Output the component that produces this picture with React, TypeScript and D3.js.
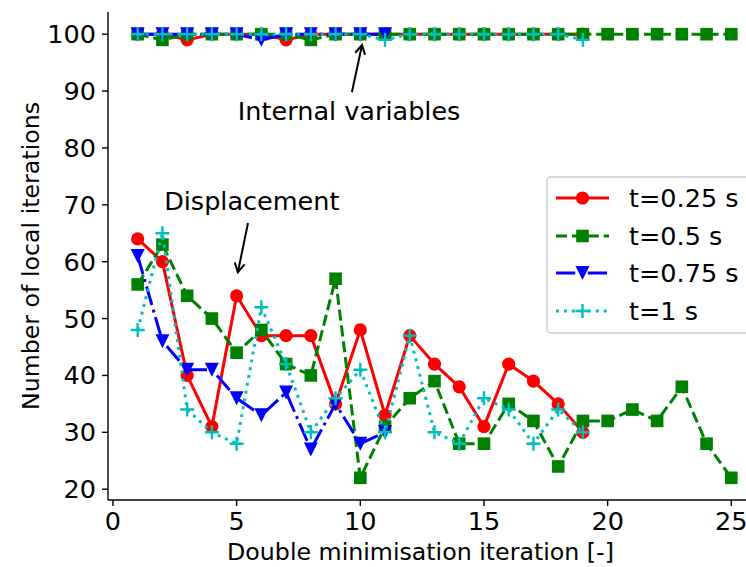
import React from "react";
import * as d3 from "d3";

const W = 746;
const H = 567;

const seriesNames = ["t=0.25 s", "t=0.5 s", "t=0.75 s", "t=1 s"];
const seriesColors = ["#ff0000", "#008000", "#0000ff", "#00bfbf"];
const seriesMarkers = ["circle", "square", "triangle", "plus"];
const seriesDash = ["", "11.1,4.8", "19.2,4.8,3,4.8", "3,4.95"];

// Internal variables (local iterations ~100), x = 1..n
const redInternal = [100, 100, 99, 100, 100, 100, 99, 100, 100, 100, 100, 100, 100, 100, 100, 100, 100, 100, 100];
const greenInternal = [100, 99, 100, 100, 100, 100, 100, 99, 100, 100, 100, 100, 100, 100, 100, 100, 100, 100, 100, 100, 100, 100, 100, 100, 100];
const blueInternal = [100, 100, 100, 100, 100, 99, 100, 100, 100, 100, 100];
const cyanInternal = [100, 100, 100, 100, 100, 100, 100, 100, 100, 100, 99, 100, 100, 100, 100, 100, 100, 100, 99];

// Displacement, x = 1..n
const redDisp = [64, 60, 40, 31, 54, 47, 47, 47, 35, 48, 33, 47, 42, 38, 31, 42, 39, 35, 30];
const greenDisp = [56, 63, 54, 50, 44, 48, 42, 40, 57, 22, 31, 36, 39, 28, 28, 35, 32, 24, 32, 32, 34, 32, 38, 28, 22];
const blueDisp = [61, 46, 41, 41, 36, 33, 37, 27, 35, 28, 30];
const cyanDisp = [48, 65, 34, 30, 28, 52, 42, 30, 36, 41, 30, 47, 30, 28, 36, 34, 28, 34, 30];

const internalData = [redInternal, greenInternal, blueInternal, cyanInternal];
const dispData = [redDisp, greenDisp, blueDisp, cyanDisp];

const xTicks = [0, 5, 10, 15, 20, 25];
const yTicks = [20, 30, 40, 50, 60, 70, 80, 90, 100];

const xLabel = "Double minimisation iteration [-]";
const yLabel = "Number of local iterations";

const annotations = [
  { text: "Internal variables", tx: 5.05, ty: 84.9, ax: 9.66, ay: 89.8, hx: 10.07, hy: 98.1 },
  { text: "Displacement", tx: 2.07, ty: 69.05, ax: 5.46, ay: 66.8, hx: 5.05, hy: 58.15 },
];

const FONT = "DejaVu Sans, sans-serif";
const FS = 25.5;
const FS_LABEL = 23.7;

function Marker({ type, x, y, color }: { type: string; x: number; y: number; color: string }) {
  if (type === "circle") return <circle cx={x} cy={y} r={6.6} fill={color} />;
  if (type === "square") return <rect x={x - 6.3} y={y - 6.3} width={12.6} height={12.6} fill={color} />;
  if (type === "triangle")
    return <path d={`M${x},${y + 7} L${x - 7},${y - 7} L${x + 7},${y - 7} Z`} fill={color} />;
  return (
    <path
      d={`M${x - 7},${y} L${x + 7},${y} M${x},${y - 7} L${x},${y + 7}`}
      stroke={color}
      strokeWidth={2.4}
      fill="none"
    />
  );
}

export default function App() {
  const left = 108;
  const right = 761;
  const top = 12;
  const bottom = 500;
  const x = d3.scaleLinear().domain([-0.2, 26.2]).range([left, right]);
  const y = d3.scaleLinear().domain([18.1, 103.9]).range([bottom, top]);
  const line = d3
    .line<number>()
    .x((_, i) => x(i + 1))
    .y((d) => y(d));

  const legendX = 547;
  const legendY = 177;
  const rowY = [198, 236, 273, 311];

  return (
    <svg
      width={W}
      height={H}
      style={{ position: "fixed", left: 0, top: 0, background: "#fff" }}
      fontFamily={FONT}
    >
      <defs>
        <clipPath id="plotclip">
          <rect x={left} y={top} width={right - left} height={bottom - top} />
        </clipPath>
        <marker id="arrowhead" viewBox="-10 -10 20 20" markerWidth={20} markerHeight={20} refX={0} refY={0} orient="auto" markerUnits="userSpaceOnUse">
          <path d="M-9,-5 L0,0 L-9,5" fill="none" stroke="#000" strokeWidth={2} />
        </marker>
      </defs>

      <g clipPath="url(#plotclip)">
        {seriesNames.map((_, si) => (
          <g key={si}>
            {[dispData[si], internalData[si]].map((arr, gi) => (
              <g key={gi}>
                <path
                  d={line(arr) || ""}
                  fill="none"
                  stroke={seriesColors[si]}
                  strokeWidth={3}
                  strokeDasharray={seriesDash[si]}
                  strokeLinejoin="round"
                />
                {arr.map((v, i) => (
                  <Marker key={i} type={seriesMarkers[si]} x={x(i + 1)} y={y(v)} color={seriesColors[si]} />
                ))}
              </g>
            ))}
          </g>
        ))}
      </g>

      {/* axes */}
      <line x1={left} x2={left} y1={top} y2={bottom} stroke="#000" strokeWidth={1.4} />
      <line x1={left} x2={right} y1={bottom} y2={bottom} stroke="#000" strokeWidth={1.4} />
      {xTicks.map((t) => (
        <g key={t}>
          <line x1={x(t)} x2={x(t)} y1={bottom} y2={bottom + 6} stroke="#000" strokeWidth={1.4} />
          <text x={x(t)} y={529.5} fontSize={FS} textAnchor="middle" fill="#000">
            {t}
          </text>
        </g>
      ))}
      {yTicks.map((t) => (
        <g key={t}>
          <line x1={left - 6} x2={left} y1={y(t)} y2={y(t)} stroke="#000" strokeWidth={1.4} />
          <text x={96} y={y(t) + 9} fontSize={FS} textAnchor="end" fill="#000">
            {t}
          </text>
        </g>
      ))}
      <text x={420.5} y={560} fontSize={FS_LABEL} textAnchor="middle" fill="#000">
        {xLabel}
      </text>
      <text
        transform={`translate(39,${(top + bottom) / 2}) rotate(-90)`}
        fontSize={FS_LABEL}
        textAnchor="middle"
        fill="#000"
      >
        {yLabel}
      </text>

      {/* annotations */}
      {annotations.map((a, i) => (
        <g key={i}>
          <text x={x(a.tx)} y={y(a.ty)} fontSize={FS} fill="#000">
            {a.text}
          </text>
          <line
            x1={x(a.ax)}
            y1={y(a.ay)}
            x2={x(a.hx)}
            y2={y(a.hy)}
            stroke="#000"
            strokeWidth={2}
            markerEnd="url(#arrowhead)"
          />
        </g>
      ))}

      {/* legend */}
      <rect
        x={legendX}
        y={legendY}
        width={220}
        height={156}
        rx={4}
        fill="#fff"
        fillOpacity={0.8}
        stroke="#cccccc"
        strokeWidth={1.4}
      />
      {seriesNames.map((n, i) => (
        <g key={n}>
          <line
            x1={556}
            x2={609}
            y1={rowY[i]}
            y2={rowY[i]}
            stroke={seriesColors[i]}
            strokeWidth={3}
            strokeDasharray={seriesDash[i]}
          />
          <Marker type={seriesMarkers[i]} x={582.5} y={rowY[i]} color={seriesColors[i]} />
          <text x={629} y={rowY[i] + 9} fontSize={FS} fill="#000">
            {n}
          </text>
        </g>
      ))}
    </svg>
  );
}
